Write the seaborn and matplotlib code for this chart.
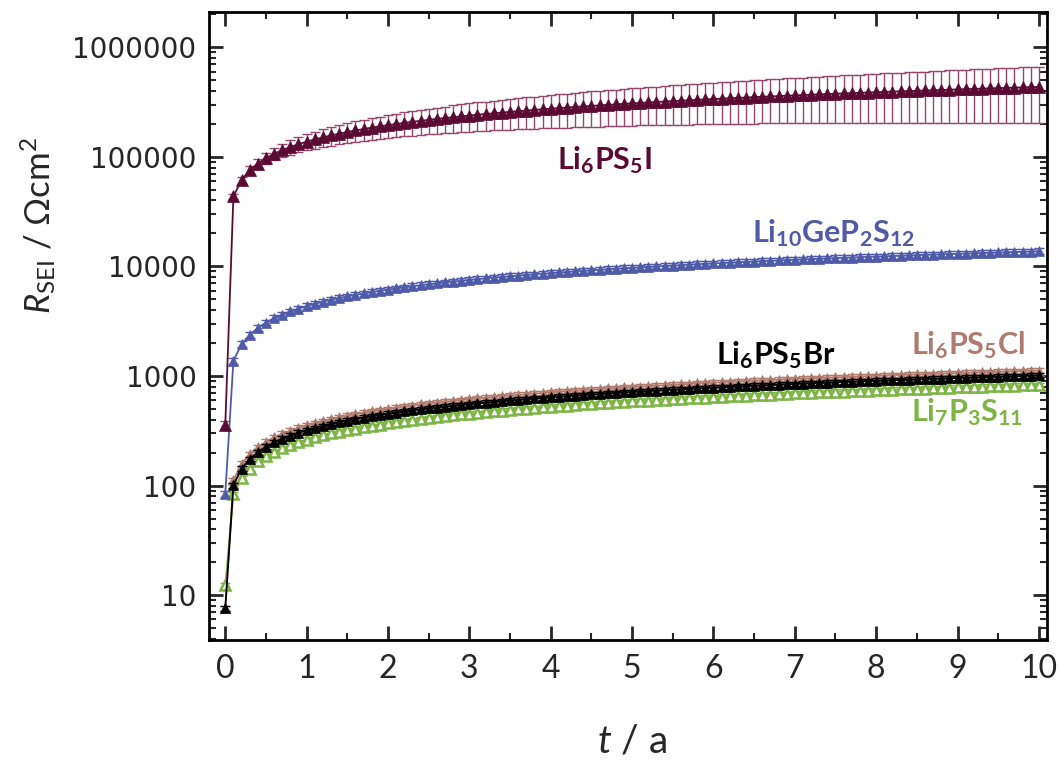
import numpy as np
import pandas as pd
import matplotlib
matplotlib.use("Agg")
import matplotlib.pyplot as plt
import seaborn as sns
from matplotlib.ticker import LogLocator, MultipleLocator, FuncFormatter, NullFormatter

# ---------------------------------------------------------------- data
# storage time in years, one sample every 0.1 a
t_years = np.round(np.linspace(0, 10, 101), 1)

# SEI resistance in Ohm cm^2
r_li6ps5i = [
    357, 43500, 61500, 75400, 87000, 97300, 106600, 115100, 123100, 130500,
    137600, 144300, 150700, 156900, 162800, 168500, 174100, 179400, 184600, 189700,
    194600, 199400, 204100, 208700, 213200, 217600, 221900, 226100, 230200, 234300,
    238300, 242300, 246200, 250000, 253700, 257400, 261100, 264700, 268200, 271700,
    275200, 278600, 282000, 285300, 288600, 291900, 295100, 298300, 301500, 304600,
    307700, 310700, 313800, 316800, 319800, 322700, 325600, 328500, 331400, 334200,
    337100, 339800, 342600, 345400, 348100, 350800, 353500, 356200, 358800, 361400,
    364100, 366600, 369200, 371800, 374300, 376800, 379300, 381800, 384300, 386800,
    389200, 391600, 394000, 396400, 398800, 401200, 403500, 405900, 408200, 410500,
    412800, 415100, 417400, 419600, 421900, 424100, 426300, 428600, 430800, 433000,
    435100,
]
err_li6ps5i = [
    30, 2300, 4600, 6900, 9200, 11500, 13800, 16100, 18400, 20700,
    23000, 25300, 27600, 29900, 32200, 34500, 36800, 39100, 41400, 43700,
    46000, 48300, 50600, 52900, 55200, 57500, 59800, 62100, 64400, 66700,
    69000, 71300, 73600, 75900, 78200, 80500, 82800, 85100, 87400, 89700,
    92000, 94300, 96600, 98900, 101200, 103500, 105800, 108100, 110400, 112700,
    115000, 117300, 119600, 121900, 124200, 126500, 128800, 131100, 133400, 135700,
    138000, 140300, 142600, 144900, 147200, 149500, 151800, 154100, 156400, 158700,
    161000, 163300, 165600, 167900, 170200, 172500, 174800, 177100, 179400, 181700,
    184000, 186300, 188600, 190900, 193200, 195500, 197800, 200100, 202400, 204700,
    207000, 209300, 211600, 213900, 216200, 218500, 220800, 223100, 225400, 227700,
    230000,
]
r_li10gep2s12 = [
    84, 1380, 1950, 2380, 2750, 3080, 3370, 3640, 3890, 4130,
    4350, 4560, 4760, 4960, 5150, 5330, 5500, 5670, 5840, 6000,
    6150, 6300, 6450, 6600, 6740, 6880, 7010, 7150, 7280, 7410,
    7530, 7660, 7780, 7900, 8020, 8140, 8250, 8370, 8480, 8590,
    8700, 8810, 8910, 9020, 9120, 9230, 9330, 9430, 9530, 9630,
    9730, 9820, 9920, 10010, 10110, 10200, 10290, 10390, 10480, 10570,
    10660, 10740, 10830, 10920, 11000, 11090, 11180, 11260, 11340, 11430,
    11510, 11590, 11670, 11750, 11830, 11910, 11990, 12070, 12150, 12230,
    12300, 12380, 12460, 12530, 12610, 12680, 12760, 12830, 12900, 12980,
    13050, 13120, 13190, 13270, 13340, 13410, 13480, 13550, 13620, 13690,
    13760,
]
r_li6ps5cl = [
    7.6, 112, 159, 194, 225, 251, 275, 297, 318, 337,
    355, 372, 389, 405, 420, 435, 449, 463, 476, 489,
    502, 514, 527, 538, 550, 561, 572, 583, 594, 605,
    615, 625, 635, 645, 655, 664, 674, 683, 692, 701,
    710, 719, 728, 736, 745, 753, 761, 770, 778, 786,
    794, 802, 810, 817, 825, 833, 840, 848, 855, 862,
    870, 877, 884, 891, 898, 905, 912, 919, 926, 933,
    939, 946, 953, 959, 966, 972, 979, 985, 991, 998,
    1004, 1010, 1017, 1023, 1029, 1035, 1041, 1047, 1053, 1059,
    1065, 1071, 1077, 1083, 1088, 1094, 1100, 1106, 1111, 1117,
    1123,
]
r_li6ps5br = [
    7.6, 101, 143, 175, 202, 226, 248, 268, 286, 304,
    320, 336, 351, 365, 379, 392, 405, 417, 429, 441,
    453, 464, 475, 485, 496, 506, 516, 526, 535, 545,
    554, 563, 572, 581, 590, 599, 607, 616, 624, 632,
    640, 648, 656, 664, 671, 679, 686, 694, 701, 708,
    716, 723, 730, 737, 744, 750, 757, 764, 771, 777,
    784, 790, 797, 803, 810, 816, 822, 828, 834, 841,
    847, 853, 859, 865, 870, 876, 882, 888, 894, 899,
    905, 911, 916, 922, 927, 933, 938, 944, 949, 955,
    960, 965, 971, 976, 981, 986, 991, 997, 1002, 1007,
    1012,
]
r_li7p3s11 = [
    12.3, 83, 117, 143, 166, 185, 203, 219, 234, 249,
    262, 275, 287, 299, 310, 321, 331, 342, 351, 361,
    371, 380, 389, 397, 406, 414, 422, 431, 438, 446,
    454, 461, 469, 476, 483, 490, 497, 504, 511, 517,
    524, 530, 537, 543, 550, 556, 562, 568, 574, 580,
    586, 592, 597, 603, 609, 614, 620, 626, 631, 636,
    642, 647, 652, 658, 663, 668, 673, 678, 683, 688,
    693, 698, 703, 708, 713, 718, 722, 727, 732, 736,
    741, 746, 750, 755, 759, 764, 768, 773, 777, 782,
    786, 790, 795, 799, 803, 808, 812, 816, 820, 824,
    829,
]
# relative uncertainty of the thin-film electrolytes
rel_err_li10gep2s12 = 0.06
rel_err_li6ps5cl = 0.05
rel_err_li6ps5br = 0.05
rel_err_li7p3s11 = 0.05

labels = [
    "Li$_6$PS$_5$I", "Li$_{10}$GeP$_2$S$_{12}$", "Li$_6$PS$_5$Br",
    "Li$_6$PS$_5$Cl", "Li$_7$P$_3$S$_{11}$",
]

# ---------------------------------------------------------------- style
sns.set_style("white")
plt.rcParams["font.family"] = ["Lato", "DejaVu Sans"]
plt.rcParams["mathtext.default"] = "regular"
plt.rcParams["mathtext.fontset"] = "custom"
plt.rcParams["mathtext.it"] = "Lato:italic"
plt.rcParams["mathtext.rm"] = "Lato"
plt.rcParams["mathtext.bf"] = "Lato:bold"

c_i = "#5b0b33"
c_i_err = "#96456f"
c_lgps = "#4f5aa8"
c_cl = "#b07b6f"
c_br = "#000000"
c_lps = "#7cb544"

fig = plt.figure(figsize=(10.6, 7.62), dpi=100)
ax = fig.add_axes([209 / 1060, 1 - 640 / 762, (1047 - 209) / 1060, (640 - 12) / 762])


def draw_series(values, err, color, err_color, mfc, mew, ms, z):
    df = pd.DataFrame({"t": t_years, "R": values})
    ax.errorbar(df["t"], df["R"], yerr=err, fmt="none", ecolor=err_color,
                elinewidth=1.0, capsize=3.5, capthick=1.0, zorder=z)
    sns.lineplot(data=df, x="t", y="R", ax=ax, color=color, marker="^",
                 markersize=ms, markerfacecolor=mfc, markeredgecolor=color,
                 markeredgewidth=mew, linewidth=1.3, estimator=None,
                 sort=False, zorder=z + 0.5)


v = np.asarray(r_li7p3s11, float)
draw_series(v, v * rel_err_li7p3s11, c_lps, c_lps, "white", 1.8, 6.5, 2)
v = np.asarray(r_li6ps5cl, float)
draw_series(v, v * rel_err_li6ps5cl, c_cl, c_cl, c_cl, 0.5, 7.5, 3)
v = np.asarray(r_li6ps5br, float)
draw_series(v, v * rel_err_li6ps5br, c_br, c_br, c_br, 0.5, 7.0, 4)
v = np.asarray(r_li10gep2s12, float)
draw_series(v, v * rel_err_li10gep2s12, c_lgps, c_lgps, c_lgps, 0.5, 7.5, 5)
draw_series(np.asarray(r_li6ps5i, float), np.asarray(err_li6ps5i, float),
            c_i, c_i_err, c_i, 0.5, 8.0, 6)

# ---------------------------------------------------------------- axes
ax.set_yscale("log")
ax.set_xlim(-0.2, 10.1)
ax.set_ylim(3.9, 2.1e6)
ax.set_xlabel("")
ax.set_ylabel("")

ax.xaxis.set_major_locator(MultipleLocator(1))
ax.xaxis.set_minor_locator(MultipleLocator(0.5))
ax.yaxis.set_major_locator(LogLocator(base=10, numticks=20))
ax.yaxis.set_minor_locator(LogLocator(base=10, subs=np.arange(2, 10), numticks=20))
ax.yaxis.set_major_formatter(FuncFormatter(lambda y, _: f"{int(round(y))}"))
ax.yaxis.set_minor_formatter(NullFormatter())

ax.tick_params(which="both", direction="in", top=True, right=True,
               bottom=True, left=True)
ax.tick_params(which="major", length=10, width=2)
ax.tick_params(which="minor", length=5, width=1.5)
ax.tick_params(axis="y", which="major", pad=9, labelsize=20,
               labelfontfamily="DejaVu Sans")
ax.tick_params(axis="x", which="major", pad=10, labelsize=23,
               labelfontfamily="Lato")
for sp in ax.spines.values():
    sp.set_linewidth(2)
    sp.set_color("black")

# series labels
label_style = dict(fontsize=22, fontweight="bold", ha="center", va="center")
ax.text(4.66, 93000, labels[0], color=c_i, **label_style)
ax.text(7.48, 20100, labels[1], color=c_lgps, **label_style)
ax.text(6.76, 1550, labels[2], color=c_br, **label_style)
ax.text(9.13, 1900, labels[3], color=c_cl, **label_style)
ax.text(9.12, 470, labels[4], color=c_lps, **label_style)

# axis titles
fig.text(632 / 1060, 1 - 742 / 762, "$\\mathit{t}$ / a", fontsize=28,
         ha="center", va="center")
fig.text(38 / 1060, 1 - 225 / 762, "$\\mathit{R}_{\\mathrm{SEI}}$ / \u03a9cm$^2$",
         fontsize=25, rotation=90, ha="center", va="center",
         family=["Lato", "DejaVu Sans"])

fig.savefig("out.png", dpi=100)
